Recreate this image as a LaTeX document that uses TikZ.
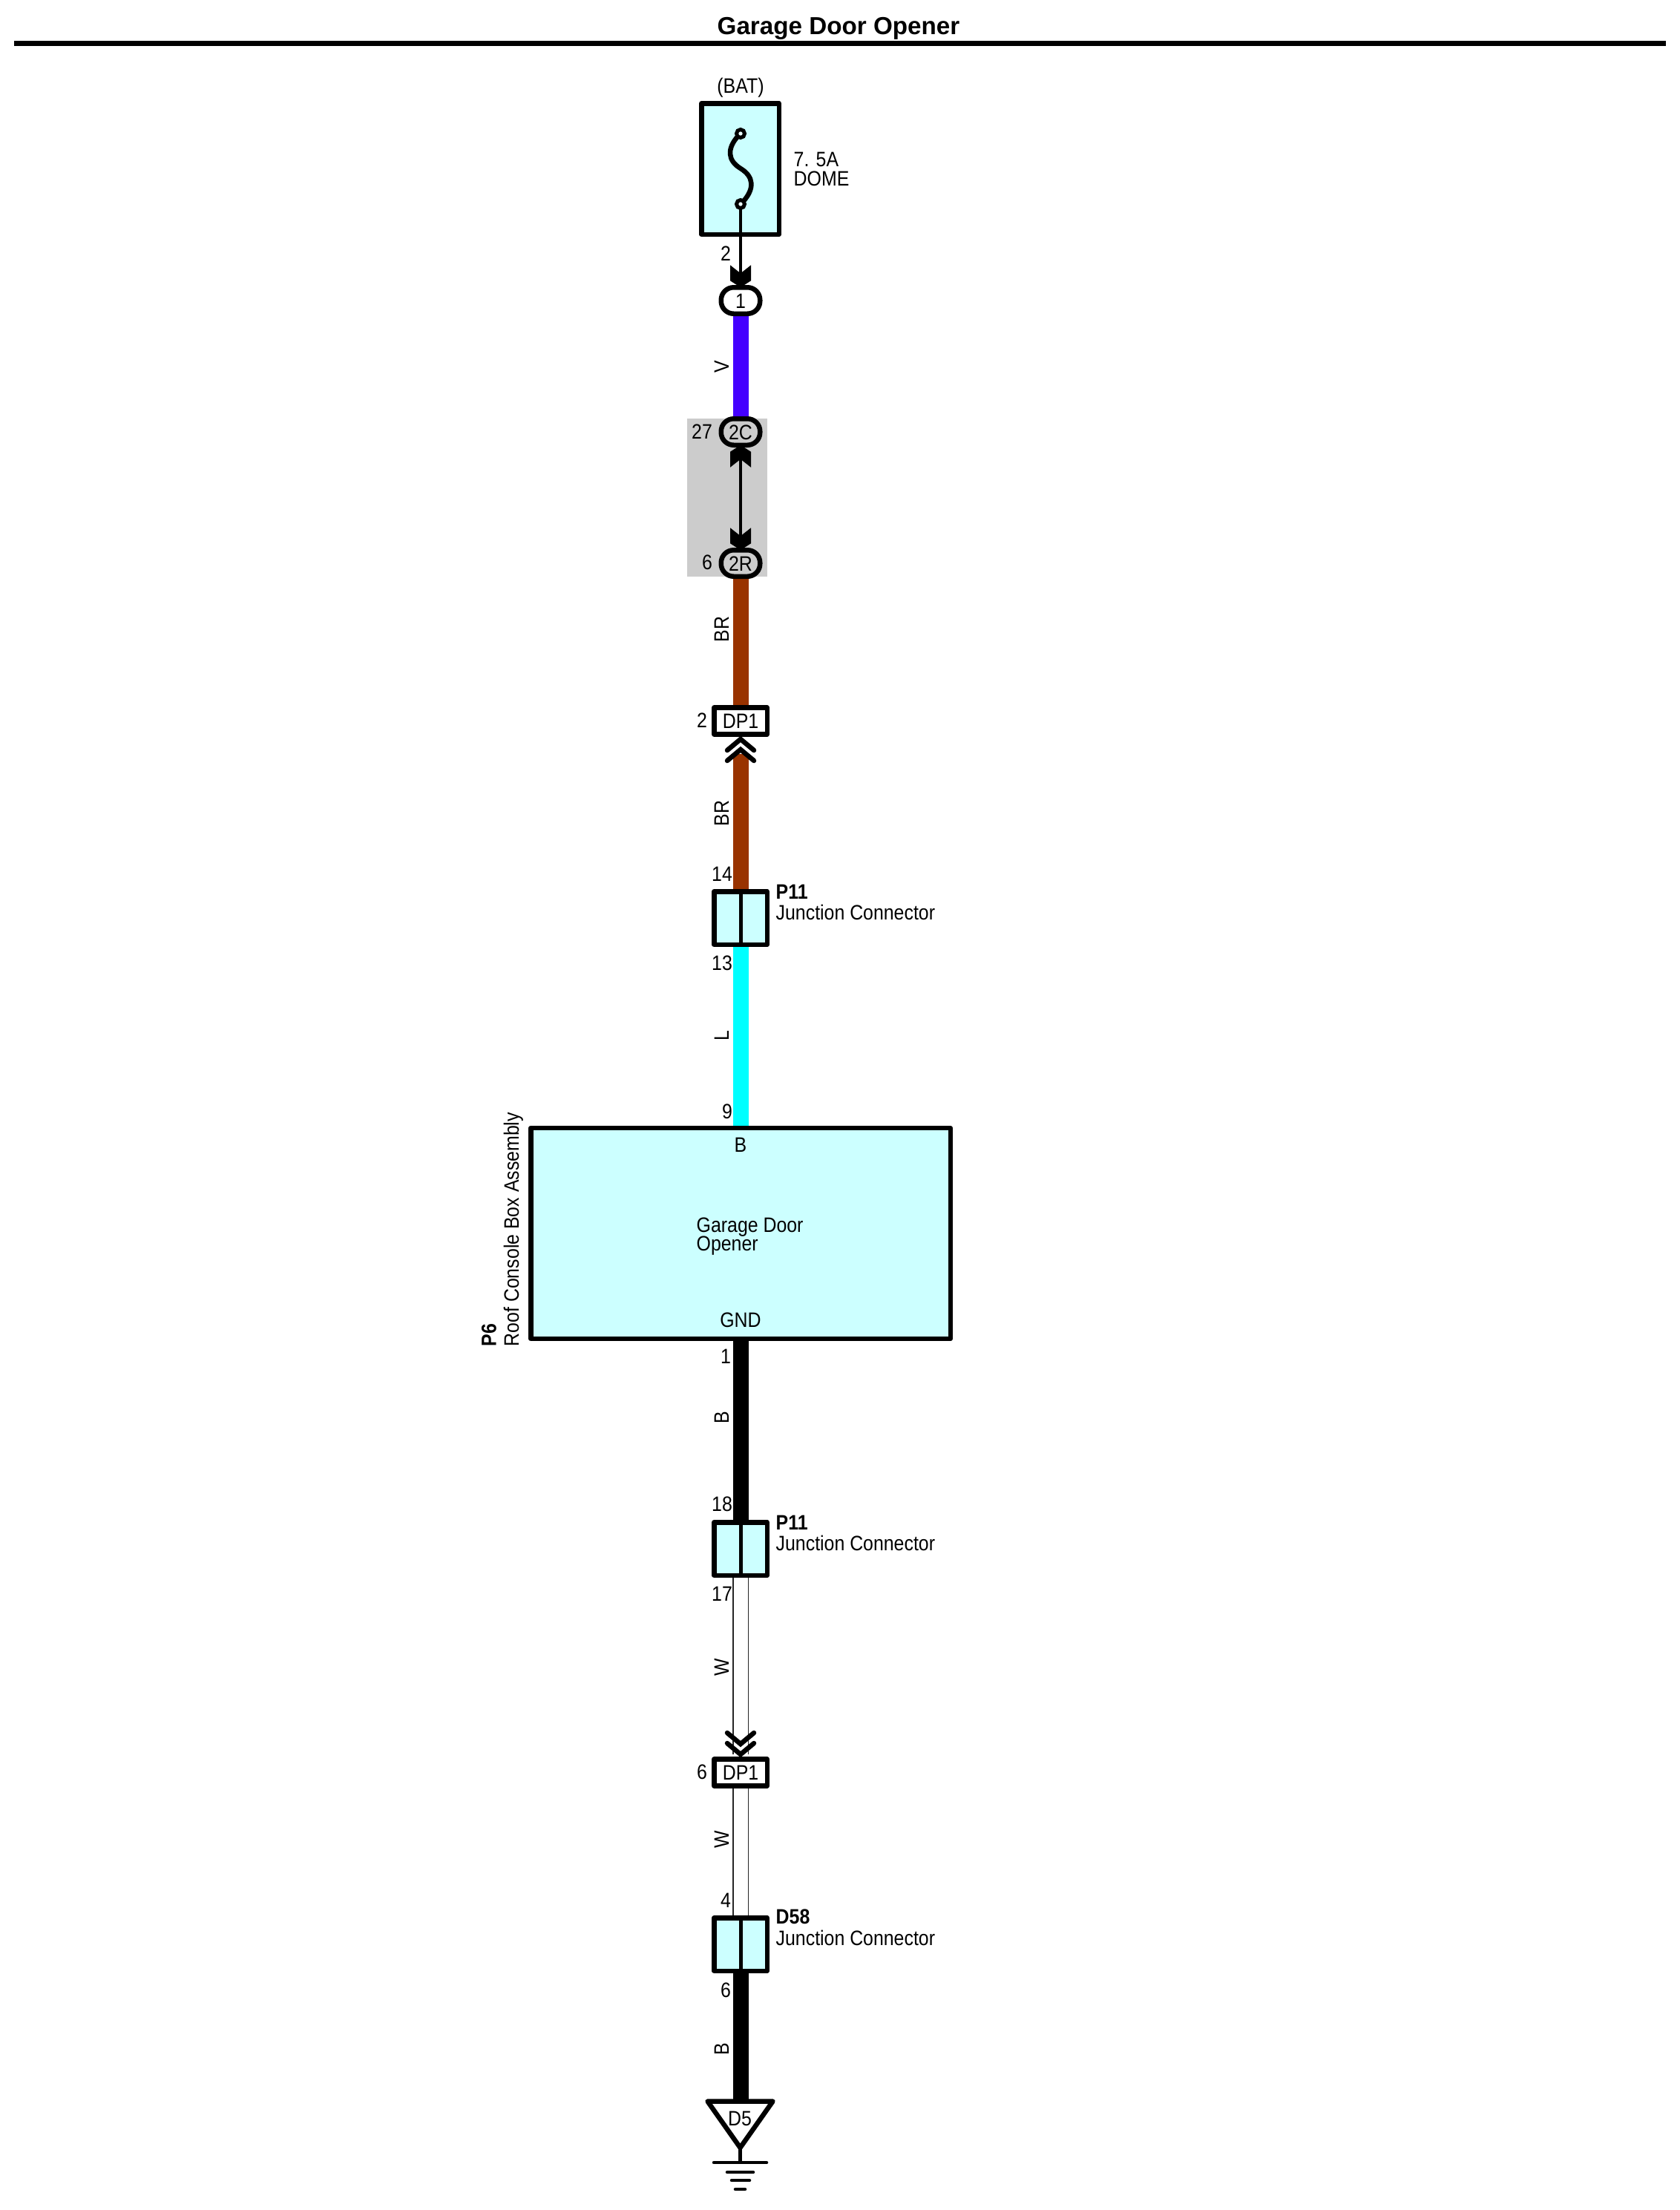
\documentclass[tikz,border=0pt]{standalone}
\usepackage{fontspec}
\setmainfont[FakeStretch=0.885]{Liberation Sans}
\newfontfamily\titlefont{Liberation Sans}
\usetikzlibrary{backgrounds}

\definecolor{boxcyan}{HTML}{CCFFFF}
\definecolor{blockgray}{HTML}{CCCCCC}
\definecolor{wireV}{HTML}{4400FF}
\definecolor{wireBR}{HTML}{993300}
\definecolor{wireL}{HTML}{00FFFF}

\tikzset{
    lbl/.style={inner sep=0, text height=0.20cm, text depth=0, font=\fontsize{8}{9}\selectfont},
    lblbold/.style={lbl, font=\bfseries\fontsize{8}{9}\selectfont},
    boxed/.style={draw, line width=0.065cm, inner sep=0, outer sep=0, line join=round},
    oval/.style={boxed, lbl, minimum width=0.525cm, minimum height=0.355cm, rounded corners=0.17cm},
    tag/.style={boxed, lbl, fill=white, minimum width=0.715cm, minimum height=0.36cm},
    junction/.style={boxed, fill=boxcyan, minimum width=0.715cm, minimum height=0.715cm},
    terminal/.style={circle, draw, line width=0.05cm, inner sep=0, outer sep=0, minimum size=0.11cm, fill=boxcyan!40},
    wire/.style={line width=0.21cm},
    whitewire/.style={draw=black!85, line width=0.012cm, double=white, double distance=0.19cm},
    thinwire/.style={line width=0.045cm},
    groundbar/.style={line width=0.045cm, line cap=round},
    solidtip/.pic={\fill (-0.14,-0.30) -- (0,-0.19) -- (0.14,-0.30) -- (0.14,-0.09) -- (0,0) -- (-0.14,-0.09) -- cycle;},
    chevrons/.pic={
        \draw[line width=0.065cm, line cap=round] (-0.18,-0.15) -- (0,0) -- (0.18,-0.15);
        \draw[line width=0.065cm, line cap=round] (-0.18,-0.29) -- (0,-0.14) -- (0.18,-0.29);
    }
}

\begin{document}
\begin{tikzpicture}[y=-1cm]
        \useasboundingbox (0,0) rectangle (22.64,29.78);

        \node[inner sep=0, text height=0.23cm, text depth=0, font=\titlefont\bfseries\fontsize{9.45}{11}\selectfont] (title) at (11.30,0.35) {Garage Door Opener};
        \draw[line width=0.07cm] (0.19,0.585) -- (22.45,0.585);

        \node[boxed, fill=boxcyan, minimum width=1.045cm, minimum height=1.765cm] (fuse) at (9.975,2.275) {};
        \node[terminal] (fusetop) at (9.98,1.80) {};
        \node[terminal] (fusebot) at (9.98,2.75) {};
        \node[lbl] (bat) at (9.98,1.15) {(BAT)};
        \node[lbl, anchor=west] (amps) at (10.69,2.14) {7. 5A};
        \node[lbl, anchor=west] (dome) at (10.69,2.40) {DOME};
        \node[lbl] (pinfuse) at (9.78,3.41) {2};

        \node[oval, fill=white] (conA) at (9.98,4.05) {1};
        \node[oval] (conB) at (9.98,5.82) {2C};
        \node[oval] (conC) at (9.98,7.59) {2R};
        \node[lbl] (pinB) at (9.46,5.81) {27};
        \node[lbl] (pinC) at (9.53,7.57) {6};

        \node[tag] (dpA) at (9.98,9.715) {DP1};
        \node[lbl] (pinA) at (9.46,9.70) {2};
        \coordinate (chevA) at (9.98,10.16);

        \node[junction] (jcA) at (9.98,12.37) {};
        \node[lbl] (pinjA) at (9.73,11.77) {14};
        \node[lbl] (pinjB) at (9.73,12.97) {13};
        \node[lblbold, anchor=west] (jcAid) at (10.45,12.01) {P11};
        \node[lbl, anchor=west] (jcAname) at (10.45,12.29) {Junction Connector};

        \node[boxed, fill=boxcyan, minimum width=5.655cm, minimum height=2.84cm] (gdo) at (9.98,16.62) {};
        \node[lbl] (pinbat) at (9.98,15.42) {B};
        \node[lbl] (pingnd) at (9.98,17.78) {GND};
        \node[lbl, anchor=west] (gdoA) at (9.38,16.50) {Garage Door};
        \node[lbl, anchor=west] (gdoB) at (9.38,16.75) {Opener};
        \node[lblbold, rotate=90, anchor=west] (gdoid) at (6.585,18.15) {P6};
        \node[lbl, rotate=90, anchor=west] (gdoname) at (6.89,18.15) {Roof Console Box Assembly};
        \node[lbl] (pintop) at (9.80,14.97) {9};
        \node[lbl] (pinbot) at (9.78,18.27) {1};

        \node[junction] (jcB) at (9.98,20.87) {};
        \node[lbl] (pinjC) at (9.73,20.26) {18};
        \node[lbl] (pinjD) at (9.73,21.47) {17};
        \node[lblbold, anchor=west] (jcBid) at (10.45,20.51) {P11};
        \node[lbl, anchor=west] (jcBname) at (10.45,20.79) {Junction Connector};

        \coordinate (chevB) at (9.98,23.64);
        \node[tag] (dpB) at (9.98,23.885) {DP1};
        \node[lbl] (pinD) at (9.46,23.87) {6};

        \node[junction] (jcC) at (9.98,26.20) {};
        \node[lbl] (pinjE) at (9.78,25.60) {4};
        \node[lbl] (pinjF) at (9.78,26.81) {6};
        \node[lblbold, anchor=west] (jcCid) at (10.45,25.82) {D58};
        \node[lbl, anchor=west] (jcCname) at (10.45,26.11) {Junction Connector};

        \node[lbl, rotate=90] (colV) at (9.72,4.94) {V};
        \node[lbl, rotate=90] (colBRa) at (9.72,8.48) {BR};
        \node[lbl, rotate=90] (colBRb) at (9.72,10.96) {BR};
        \node[lbl, rotate=90] (colL) at (9.72,13.96) {L};
        \node[lbl, rotate=90] (colBa) at (9.72,19.10) {B};
        \node[lbl, rotate=90] (colWa) at (9.72,22.47) {W};
        \node[lbl, rotate=90] (colWb) at (9.72,24.79) {W};
        \node[lbl, rotate=90] (colBb) at (9.72,27.61) {B};

        \coordinate (gndtop) at (9.98,28.30);
        \coordinate (gndtip) at (9.975,28.94);
        \coordinate (gndbar) at (9.975,29.14);
        \draw[line width=0.065cm, line join=round] (9.535,28.315) -- (10.415,28.315) -- (gndtip) -- cycle;
        \node[lbl] (gnd) at (9.97,28.54) {D5};
        \draw[line width=0.05cm] (gndtip) -- (gndbar);
        \draw[groundbar] (9.62,29.14) -- (10.33,29.14);
        \draw[groundbar] (9.80,29.27) -- (10.15,29.27);
        \draw[groundbar] (9.86,29.38) -- (10.10,29.38);
        \draw[groundbar] (9.91,29.50) -- (10.04,29.50);

        \begin{scope}[on background layer]
            \fill[blockgray] (9.26,5.64) rectangle (10.34,7.77);
            \draw[wire, wireV] (conA.south) -- (conB.north);
            \draw[wire, wireBR] (conC.south) -- (dpA.north);
            \draw[wire, wireBR] (chevA) -- (jcA.north);
            \draw[wire, wireL] (jcA.south) -- (jcA.south |- gdo.north);
            \draw[wire] (jcA.south |- gdo.south) -- (jcB.north);
            \draw[whitewire] (jcB.south) -- (chevB);
            \draw[whitewire] (dpB.south) -- (jcC.north);
            \draw[wire] (jcC.south) -- (gndtop);
        \end{scope}

        \draw[line width=0.05cm] (jcA.north) -- (jcA.south);
        \draw[line width=0.05cm] (jcB.north) -- (jcB.south);
        \draw[line width=0.05cm] (jcC.north) -- (jcC.south);

        \draw[line width=0.065cm] (fusetop.south west) .. controls (9.80,2.00) and (9.80,2.16) .. (9.98,2.27) .. controls (10.16,2.38) and (10.17,2.54) .. (fusebot.north east);
        \draw[thinwire] (fusebot.south) -- (conA.north);
        \draw[thinwire] (conB.south) -- (conC.north);

        \pic at (conA.north) {solidtip};
        \pic[rotate=180] at (conB.south) {solidtip};
        \pic at (conC.north) {solidtip};
        \pic[rotate=180] at (9.98,9.96) {chevrons};
        \pic at (chevB) {chevrons};
    \end{tikzpicture}
\end{document}
